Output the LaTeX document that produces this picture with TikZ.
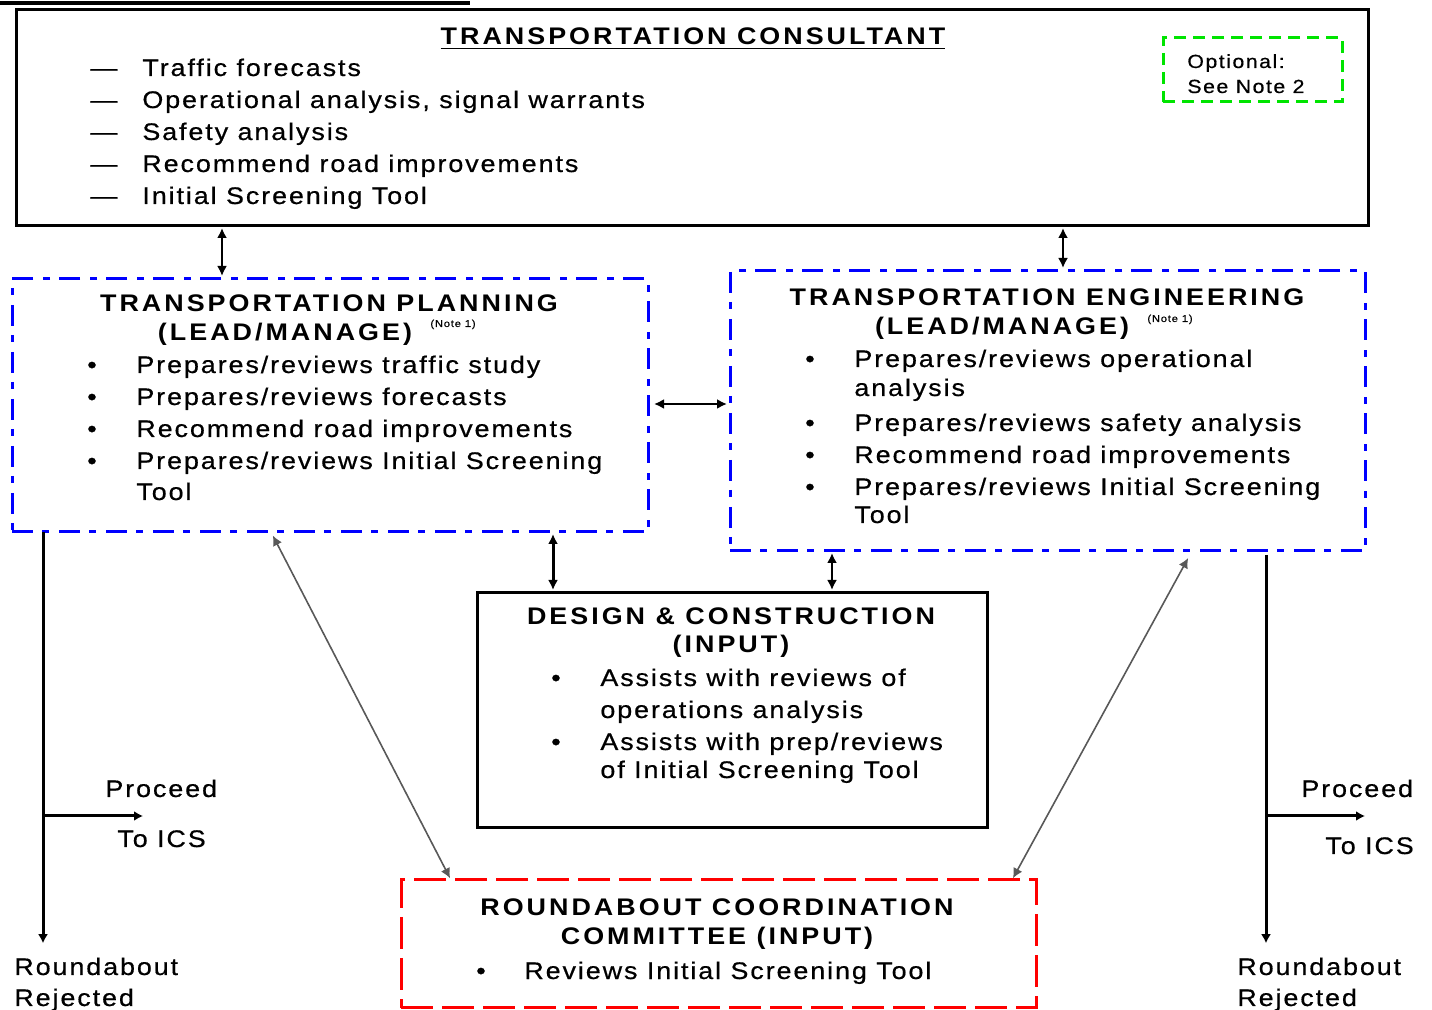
\documentclass[tikz,border=0pt]{standalone}
\usepackage{fontspec}
\setmainfont{Liberation Sans}[LetterSpace=8, FakeStretch=1.12, FakeBold=0.6]
\newfontfamily\titlefont{Liberation Sans}[LetterSpace=12.5, FakeStretch=1.12]
\usetikzlibrary{arrows.meta}
\definecolor{dgreen}{RGB}{0,228,0}
\newcommand\bitem[5]{\node[txt,anchor=base] (#1b) at (#2,#4) {\textbullet}; \node[txt] (#1) at (#3,#4) {#5};}
\begin{document}
\begin{tikzpicture}[x=0.5pt,y=-0.5pt,
  box/.style={draw, line width=1.5pt, inner sep=0pt, outer sep=0pt},
  bluebox/.style={box, draw=blue, dash pattern=on 10.5pt off 4.5pt on 3.5pt off 5pt},
  redbox/.style={box, draw=red, dash pattern=on 16pt off 4.5pt},
  greenbox/.style={box, draw=dgreen, dash pattern=on 6pt off 3.5pt},
  txt/.style={inner sep=0pt, font=\fontsize{12}{14}\selectfont, anchor=base west},
  ttl/.style={inner sep=0pt, font=\titlefont\bfseries\fontsize{12}{14}\selectfont, anchor=base},
  small/.style={inner sep=0pt, font=\fontsize{9.5}{11}\selectfont, anchor=base west},
  tiny/.style={inner sep=0pt, font=\fontsize{5}{6}\selectfont, anchor=base west},
  dbl/.style={{Latex[length=5pt,width=5pt]}-{Latex[length=5pt,width=5pt]}, line width=1pt, shorten <=1pt, shorten >=1.5pt},
  diag/.style={{Latex[length=5pt,width=5pt]}-{Latex[length=5pt,width=5pt]}, line width=0.8pt, draw=black!65, fill=black},
  rej/.style={-{Latex[length=4.5pt,width=5pt]}, line width=1.5pt}
]
\useasboundingbox (0,0) rectangle (1432,1010);
\draw[line width=2pt] (0,3) -- (470,3);

% boxes
\node[box, minimum width=676pt, minimum height=108pt] (cons) at (692,118) {};
\node[greenbox, minimum width=89.5pt, minimum height=32pt] (opt) at (1252.5,70) {};
\node[bluebox, minimum width=318pt, minimum height=126.5pt] (plan) at (330,405.5) {};
\node[bluebox, minimum width=317.5pt, minimum height=140pt] (eng) at (1047.5,411) {};
\node[box, minimum width=255pt, minimum height=117.5pt] (des) at (732,710.5) {};
\node[redbox, minimum width=317.5pt, minimum height=64pt] (rcc) at (718.5,944) {};

% consultant
\node[ttl] (ct) at (693,45) {\underline{TRANSPORTATION CONSULTANT}};
\node[txt] (cd1) at (90,76) {—}; \node[txt] (c1) at (142,76) {Traffic forecasts};
\node[txt] (cd2) at (90,108) {—}; \node[txt] (c2) at (142,108) {Operational analysis, signal warrants};
\node[txt] (cd3) at (90,140) {—}; \node[txt] (c3) at (142,140) {Safety analysis};
\node[txt] (cd4) at (90,172) {—}; \node[txt] (c4) at (142,172) {Recommend road improvements};
\node[txt] (cd5) at (90,204) {—}; \node[txt] (c5) at (142,204) {Initial Screening Tool};
\node[small] (o1) at (1187,68) {Optional:};
\node[small] (o2) at (1187,93) {See Note 2};

% planning
\node[ttl] (pt1) at (329,312) {TRANSPORTATION PLANNING};
\node[ttl] (pt2) at (285,341) {(LEAD/MANAGE)};
\node[tiny] (pn) at (430,327) {(Note 1)};
\bitem{p1}{92}{136}{373}{Prepares/reviews traffic study}
\bitem{p2}{92}{136}{405}{Prepares/reviews forecasts}
\bitem{p3}{92}{136}{437}{Recommend road improvements}
\bitem{p4}{92}{136}{469}{Prepares/reviews Initial Screening}
\node[txt] (p5) at (136,500) {Tool};

% engineering
\node[ttl] (et1) at (1047,306) {TRANSPORTATION ENGINEERING};
\node[ttl] (et2) at (1002,335) {(LEAD/MANAGE)};
\node[tiny] (en) at (1147,322) {(Note 1)};
\bitem{e1}{810}{854}{367}{Prepares/reviews operational}
\node[txt] (e1a) at (854,396) {analysis};
\bitem{e2}{810}{854}{431}{Prepares/reviews safety analysis}
\bitem{e3}{810}{854}{463}{Recommend road improvements}
\bitem{e4}{810}{854}{495}{Prepares/reviews Initial Screening}
\node[txt] (e4a) at (854,523) {Tool};

% design
\node[ttl] (dt1) at (731,625) {DESIGN \& CONSTRUCTION};
\node[ttl] (dt2) at (731,653) {(INPUT)};
\bitem{d1}{556}{600}{686}{Assists with reviews of}
\node[txt] (d1a) at (600,718) {operations analysis};
\bitem{d2}{556}{600}{750}{Assists with prep/reviews}
\node[txt] (d2a) at (600,778) {of Initial Screening Tool};

% roundabout committee
\node[ttl] (rt1) at (717,915) {ROUNDABOUT COORDINATION};
\node[ttl] (rt2) at (717,944) {COMMITTEE (INPUT)};
\bitem{r1}{481}{524}{979}{Reviews Initial Screening Tool}

% side labels
\node[txt] (pl1) at (105,797) {Proceed};
\node[txt] (pl2) at (117,847) {To ICS};
\node[txt] (rl1) at (14,975) {Roundabout};
\node[txt] (rl2) at (14,1006) {Rejected};
\node[txt] (pr1) at (1301,797) {Proceed};
\node[txt] (pr2) at (1325,854) {To ICS};
\node[txt] (rr1) at (1237,975) {Roundabout};
\node[txt] (rr2) at (1237,1006) {Rejected};
\coordinate (brL) at (43,816);
\coordinate (toL) at (143,816);
\coordinate (brR) at (1266,816);
\coordinate (toR) at (1365,816);

% connectors
\draw[dbl] (cons.south -| 222,0) -- (plan.north -| 222,0);
\draw[dbl] (cons.south -| 1063,0) -- (eng.north -| 1063,0);
\draw[dbl, shorten <=3pt] (plan.east |- 0,404) -- (eng.west |- 0,404);
\draw[dbl, line width=1.5pt] (plan.south -| 553,0) -- (des.north -| 553,0);
\draw[dbl] (eng.south -| 832,0) -- (des.north -| 832,0);
\draw[diag, shorten <=2pt, shorten >=1pt] (plan.south -| 271,0) -- (rcc.north -| 451,0);
\draw[diag, shorten <=4pt, shorten >=1pt] (eng.south -| 1192,0) -- (rcc.north -| 1012,0);
\draw[rej] (plan.south -| 43,0) -- ([yshift=7pt]rl1.north -| 43,0);
\draw[rej] (brL) -- (toL);
\draw[rej, shorten <=2pt] (eng.south -| 1266,0) -- ([yshift=7pt]rr1.north -| 1266,0);
\draw[rej] (brR) -- (toR);
\end{tikzpicture}
\end{document}
